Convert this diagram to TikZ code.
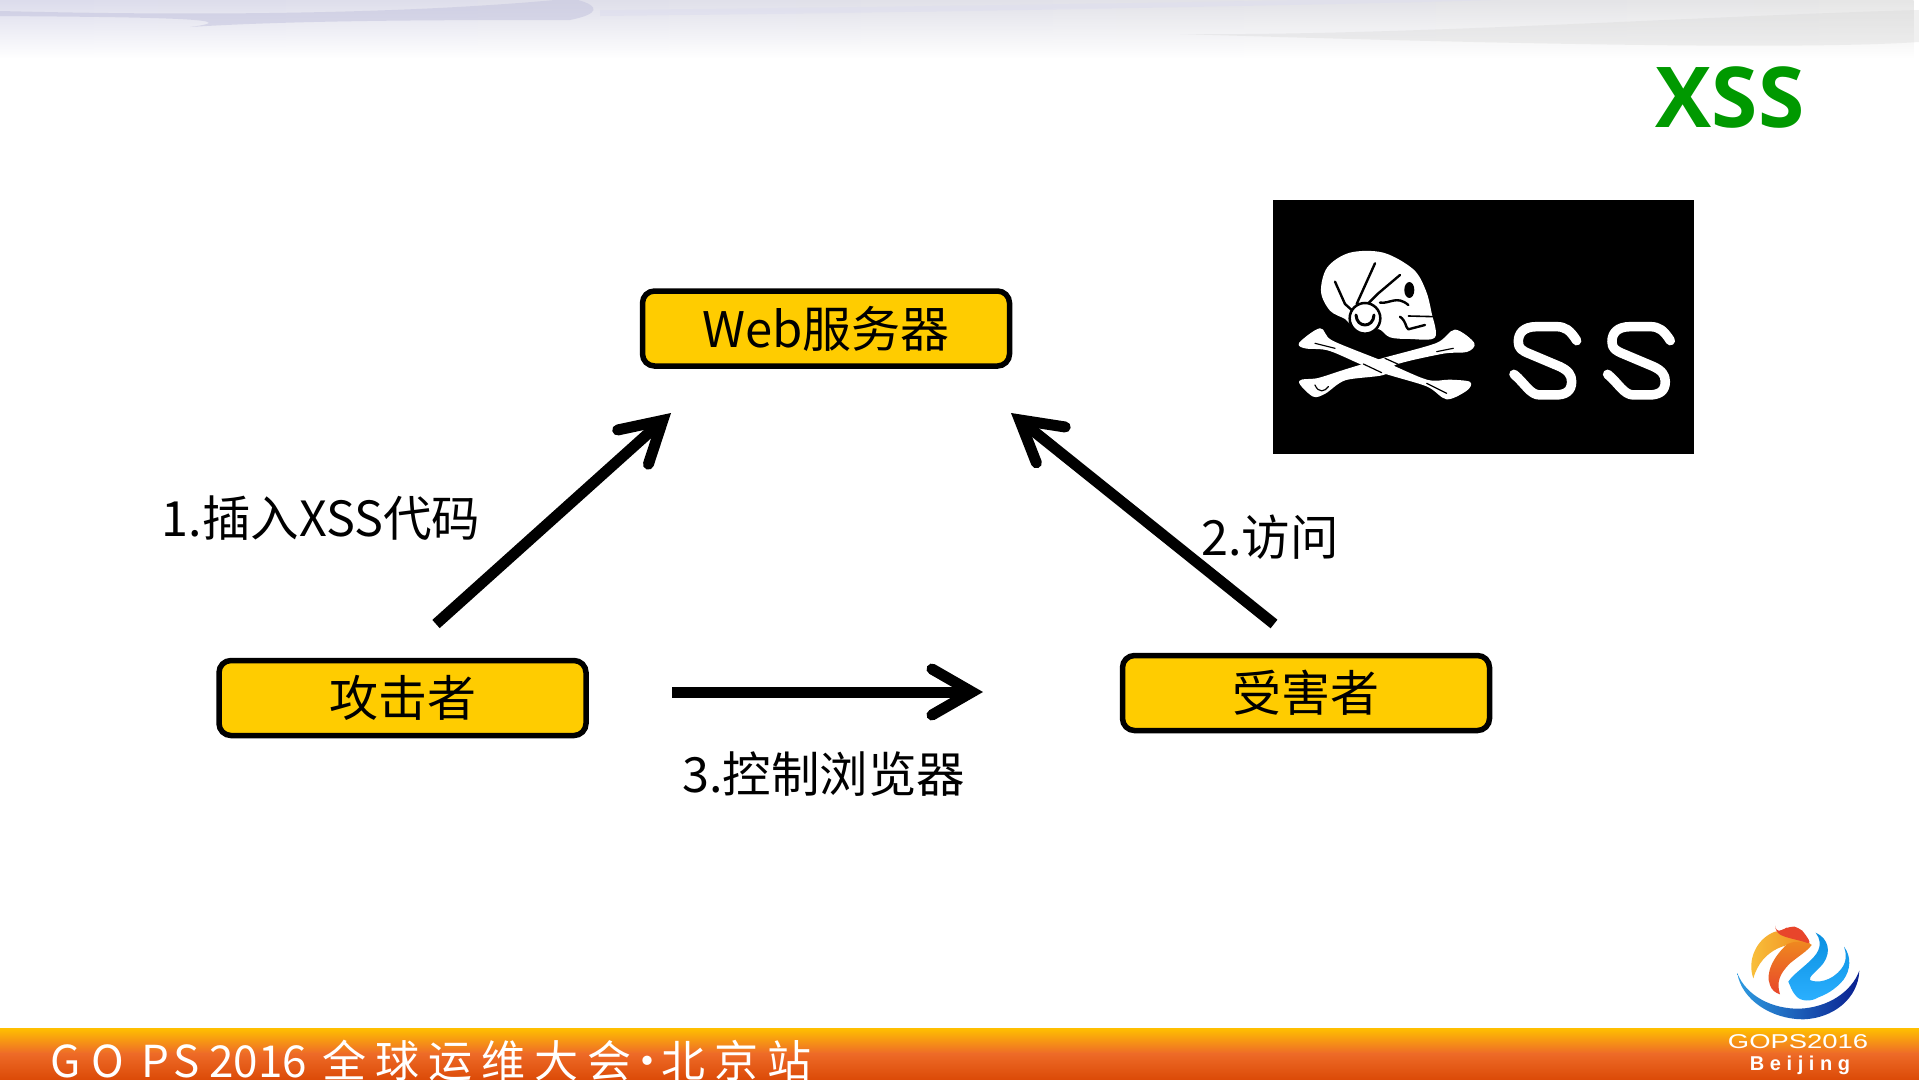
\documentclass[tikz,border=0pt]{standalone}
\usepackage{fontspec}
\usetikzlibrary{arrows.meta,fadings,shadings}
\setmainfont{Noto Sans CJK SC}
\newfontfamily\latinbold{Open Sans}
\newfontfamily\logofont{Liberation Sans}
\newfontfamily\logospaced[LetterSpace=28]{Liberation Sans}
\definecolor{boxyellow}{HTML}{FFCC00}
\definecolor{xssgreen}{HTML}{009900}
\definecolor{bandlav}{HTML}{DCDCEC}
\definecolor{bandmid}{HTML}{E8E8F4}
\definecolor{bandgrey}{HTML}{E6E6E6}
\definecolor{streak}{HTML}{C4C4DE}
\definecolor{streakb}{HTML}{DEDEEE}
\definecolor{streakg}{HTML}{D6D6D6}
\definecolor{bartop}{HTML}{FFC000}
\definecolor{barmid}{HTML}{EE6B28}
\definecolor{barbot}{HTML}{DC4B08}
\definecolor{lgyellow}{HTML}{F9C23C}
\definecolor{lgorange}{HTML}{EF8A1F}
\definecolor{lgred}{HTML}{E8452B}
\definecolor{lgblueA}{HTML}{0A8FE0}
\definecolor{lgblueB}{HTML}{0A6CC8}
\definecolor{lgblueC}{HTML}{2BB0FF}
\definecolor{lgblueD}{HTML}{2E9BE0}
\definecolor{lgblueE}{HTML}{0A2090}
\tikzfading[name=bandfade,top color=transparent!0,middle color=transparent!55,bottom color=transparent!100]
\tikzset{
  box/.style={draw=black,line width=5.5pt,rounded corners=12pt,fill=boxyellow,
    minimum width=367pt,minimum height=75pt,inner sep=0pt,font=\fontsize{49}{53}\selectfont},
  lab/.style={font=\fontsize{48.5}{53}\selectfont,inner sep=0pt,text=black},
  bigarrow/.style={draw=black,line width=11pt,
    -{Straight Barb[length=40pt,width=46pt,line cap=round,line join=miter]}},
  skullink/.style={draw=black,line width=2.4pt,line cap=round,line join=round},
  boneink/.style={draw=black,line width=1.2pt,line cap=round},
  bonefill/.style={fill=white,draw=white,line width=2pt,line join=round},
  sglyph/.style={draw=white,line width=9.5pt,line cap=round,line join=round},
  barfont/.style={font=\fontsize{44}{48}\selectfont,text=white,inner sep=0pt,anchor=base west}
}
\begin{document}
\begin{tikzpicture}[x=1pt,y=-1pt]
\useasboundingbox (0,0) rectangle (1919,1079);
\clip (0,0) rectangle (1919,1079);
\fill[white] (0,0) rectangle (1919,1079);

% top banner
\path[path fading=bandfade,left color=bandlav,middle color=bandmid,right color=bandgrey]
  (0,0) rectangle (1919,58);
\fill[streakg,opacity=.35] (1180,34) .. controls (1400,36) and (1700,16) .. (1919,10)
  -- (1919,42) .. controls (1800,50) and (1500,44) .. (1180,34) -- cycle;
\fill[streak,opacity=.55] (0,11) .. controls (200,16) and (400,14) .. (555,0)
  -- (578,0) .. controls (600,6) and (600,14) .. (570,20)
  .. controls (450,20) and (300,20) .. (190,27)
  .. controls (260,18) and (120,17) .. (0,16) -- cycle;
\fill[streakb,opacity=.6] (600,10) .. controls (800,8) and (1100,4) .. (1300,0)
  -- (1500,0) .. controls (1200,8) and (800,14) .. (600,16) -- cycle;

% orange bar
\shade[top color=bartop,bottom color=barmid] (0,1028) rectangle (1919,1053.5);
\shade[top color=barmid,bottom color=barbot] (0,1053) rectangle (1919,1079);
\node[barfont] (bG) at (50,1077) {G};
\node[barfont] (bO) at (91,1077) {O};
\node[barfont] (bP) at (141,1077) {P};
\node[barfont] (bS) at (173,1077) {S};
\node[barfont] (b2) at (209,1077) {2016};
\node[barfont] (b3) at (322,1077) {全};
\node[barfont] (b4) at (375,1077) {球};
\node[barfont] (b5) at (428,1077) {运};
\node[barfont] (b6) at (481,1077) {维};
\node[barfont] (b7) at (534,1077) {大};
\node[barfont] (b8) at (587,1077) {会};
\node[barfont] (b9) at (625,1077) {·};
\node[barfont] (b10) at (661,1077) {北};
\node[barfont] (b11) at (714,1077) {京};
\node[barfont] (b12) at (767,1077) {站};

% title
\node[font=\fontsize{84}{90}\selectfont\latinbold\bfseries,text=xssgreen,inner sep=0pt,anchor=center] (title) at (1730,97) {XSS};

% boxes
\node[box] (web) at (826,328.5) {Web服务器};
\node[box] (attacker) at (402.5,698) {攻击者};
\node[box] (victim) at (1306,693) {受害者};

% labels
\node[lab] (l1) at (321,518) {1.插入XSS代码};
\node[lab] (l2) at (1270,537) {2.访问};
\node[lab] (l3) at (824,774) {3.控制浏览器};

% arrows
\coordinate (a1s) at (436,624);
\coordinate (a1e) at (671,413);
\coordinate (a2s) at (1274,624);
\coordinate (a2e) at (1011,413);
\coordinate (a3s) at (672,692);
\coordinate (a3e) at (983,692);
\draw[bigarrow] (a1s) -- (a1e);
\draw[bigarrow] (a2s) -- (a2e);
\draw[bigarrow] (a3s) -- (a3e);

% pirate picture
\fill[black] (1273,200) rectangle (1694,454);
\begin{scope}[shift={(1250,180)},x=0.3333pt,y=-0.3333pt]
  % bones
  \path[bonefill]
    plot[smooth cycle,tension=.5] coordinates {(615,452)(670,490)(650,513)(580,518)(440,550)(400,582)(285,598)(225,638)(190,647)(150,605)(205,597)(290,570)(400,537)(560,492)};
  \path[bonefill]
    plot[smooth cycle,tension=.5] coordinates {(150,490)(210,448)(245,484)(400,547)(530,602)(600,602)(658,608)(648,630)(590,655)(530,616)(380,570)(240,510)(170,503)};
  \draw[boneink] (195,490) -- (255,505);
  \draw[boneink] (560,515) -- (610,505);
  \draw[boneink] (530,610) -- (590,640);
  \draw[boneink] (195,615) .. controls (205,640) and (225,635) .. (235,620);
  \draw[boneink] (340,552) -- (395,578);
  \draw[boneink] (405,535) -- (445,553);
  % skull
  \fill[white] plot[smooth cycle,tension=.55] coordinates
    {(213,335)(232,262)(300,218)(400,218)(490,268)(527,330)(544,395)(555,472)(480,477)(420,472)(385,447)(340,462)(300,432)(285,417)(240,392)};
  \draw[skullink] (255,305) -- (285,372) -- (305,390);
  \draw[skullink] (375,250) -- (320,372);
  \draw[skullink] (450,285) -- (385,340) -- (350,375);
  \draw[skullink] (390,368) .. controls (420,372) and (440,345) .. (475,375);
  \draw[skullink,line width=1.6pt] (475,408) -- (550,410);
  \draw[skullink] (450,410) .. controls (470,425) and (465,440) .. (475,448) -- (525,435);
  \fill[black] (478,330) ellipse[x radius=15,y radius=24];
  \fill[white,draw=black,line width=2.5pt] (345,415) circle[radius=46];
  \draw[skullink,line width=3pt] (318,405) .. controls (320,445) and (370,445) .. (372,405);
  % S S
  \foreach \dx in {0,281}
    \draw[sglyph,shift={(\dx,0)}] (980,482) .. controls (960,450) and (945,440) .. (920,440) -- (860,440)
      .. controls (820,440) and (805,460) .. (805,485) .. controls (805,505) and (815,512) .. (840,522)
      -- (930,560) .. controls (955,572) and (965,585) .. (965,605) .. controls (965,635) and (945,645) .. (915,645)
      -- (870,645) .. controls (840,645) and (825,610) .. (792,583);
\end{scope}

% logo
\begin{scope}[shift={(1700,910)},x=0.3333pt,y=-0.3333pt]
  \shade[left color=lgyellow,right color=lgorange]
    (160,205) .. controls (140,150) and (170,85) .. (225,65) .. controls (260,60) and (300,75) .. (335,105)
    .. controls (270,90) and (185,115) .. (160,205) -- cycle;
  \shade[top color=lgorange,bottom color=lgred]
    (335,105) .. controls (300,90) and (280,95) .. (262,102)
    .. controls (220,140) and (195,190) .. (210,225) .. controls (215,240) and (225,248) .. (240,253)
    .. controls (228,215) and (240,190) .. (270,160) .. controls (300,135) and (320,125) .. (335,105) -- cycle;
  \fill[lgred,rounded corners=6pt] (225,65) -- (245,62) -- (268,48) -- (298,52) -- (318,75) -- (335,105)
    .. controls (300,90) and (260,85) .. (225,65) -- cycle;
  \shade[top color=lgblueA,middle color=lgblueB,bottom color=lgblueC]
    (347,68) .. controls (385,85) and (395,125) .. (370,160) .. controls (350,185) and (325,200) .. (330,210)
    .. controls (350,220) and (395,215) .. (425,175) .. controls (440,155) and (440,130) .. (432,110)
    .. controls (455,140) and (452,180) .. (430,210) .. controls (405,240) and (375,255) .. (355,262)
    .. controls (335,275) and (305,275) .. (290,260) .. controls (275,245) and (270,225) .. (265,215)
    .. controls (280,190) and (330,160) .. (350,130) .. controls (365,105) and (360,85) .. (347,68) -- cycle;
  \shade[left color=lgblueD,middle color=lgblueC,right color=lgblueE]
    (112,190) .. controls (125,270) and (215,328) .. (310,328) .. controls (400,325) and (475,265) .. (478,182)
    .. controls (455,245) and (385,292) .. (300,296) .. controls (220,298) and (140,260) .. (112,190) -- cycle;
\end{scope}
\node[font=\fontsize{20}{22}\logofont,text=white,inner sep=0pt,xscale=1.37] (gops) at (1798,1041.5) {GOPS2016};
\node[font=\fontsize{20}{22}\logospaced\bfseries,text=white,inner sep=0pt,anchor=center] (bj) at (1800,1065) {Beijing};
\end{tikzpicture}
\end{document}
